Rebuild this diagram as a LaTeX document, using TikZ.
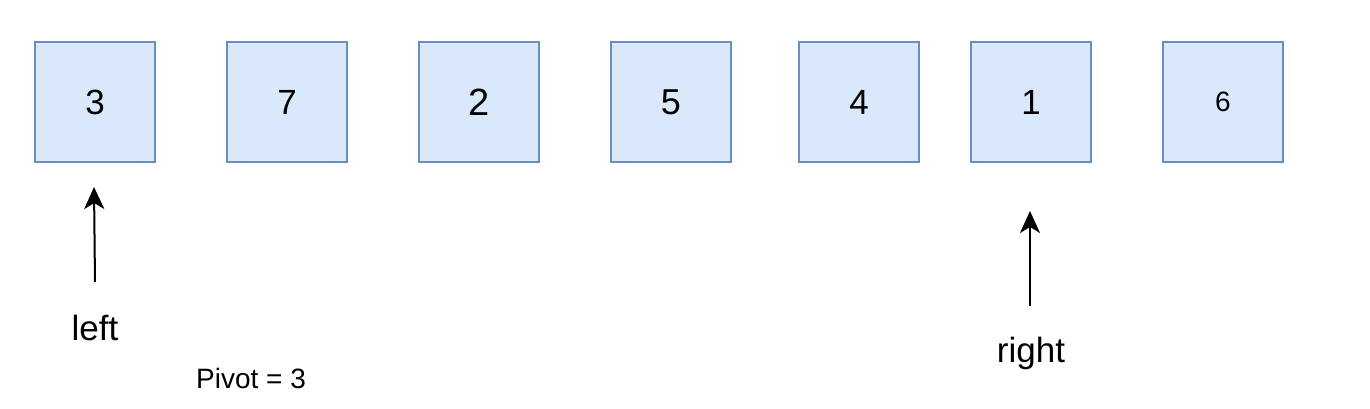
\documentclass[tikz,border=0pt]{standalone}
\usepackage{fontspec}
\setmainfont{Liberation Sans}
\usetikzlibrary{arrows.meta}
\definecolor{cellfill}{HTML}{DAE8FC}
\definecolor{celldraw}{HTML}{6C8EBF}
\tikzset{
	cell/.style={draw=celldraw, fill=cellfill, line width=1.5pt, minimum size=120pt, inner sep=0pt, font=\fontsize{35}{35}\selectfont},
	ptr/.style={line width=2pt, -{Stealth[length=22pt,width=20pt,inset=6pt]}},
	ptrlabel/.style={font=\fontsize{35}{35}\selectfont}
}
\begin{document}
\begin{tikzpicture}[x=1pt,y=-1pt]
	\useasboundingbox (0, 0) rectangle (1370, 409);

	\node [cell] (c1) at (95, 102) {3};
	\node [cell] (c2) at (287, 102) {7};
	\node [cell, font=\fontsize{38}{38}\selectfont] (c3) at (479, 102) {2};
	\node [cell, font=\fontsize{36}{36}\selectfont] (c4) at (671, 102) {5};
	\node [cell] (c5) at (859, 102) {4};
	\node [cell] (c6) at (1031, 102) {1};
	\node [cell, font=\fontsize{28}{28}\selectfont] (c7) at (1223, 102) {6};

	\coordinate (lfttail) at (95, 282);
	\coordinate (lfttip) at (94, 187);
	\draw [ptr] (lfttail) -- (lfttip);
	\node [ptrlabel] (lft) at (95, 328) {left};

	\coordinate (rgttail) at (1030, 306);
	\coordinate (rgttip) at (1030, 211);
	\draw [ptr] (rgttail) -- (rgttip);
	\node [ptrlabel] (rgt) at (1031, 353) {right};

	\node [font=\fontsize{28}{28}\selectfont] (pivot) at (251, 378) {Pivot = 3};

\end{tikzpicture}
\end{document}
